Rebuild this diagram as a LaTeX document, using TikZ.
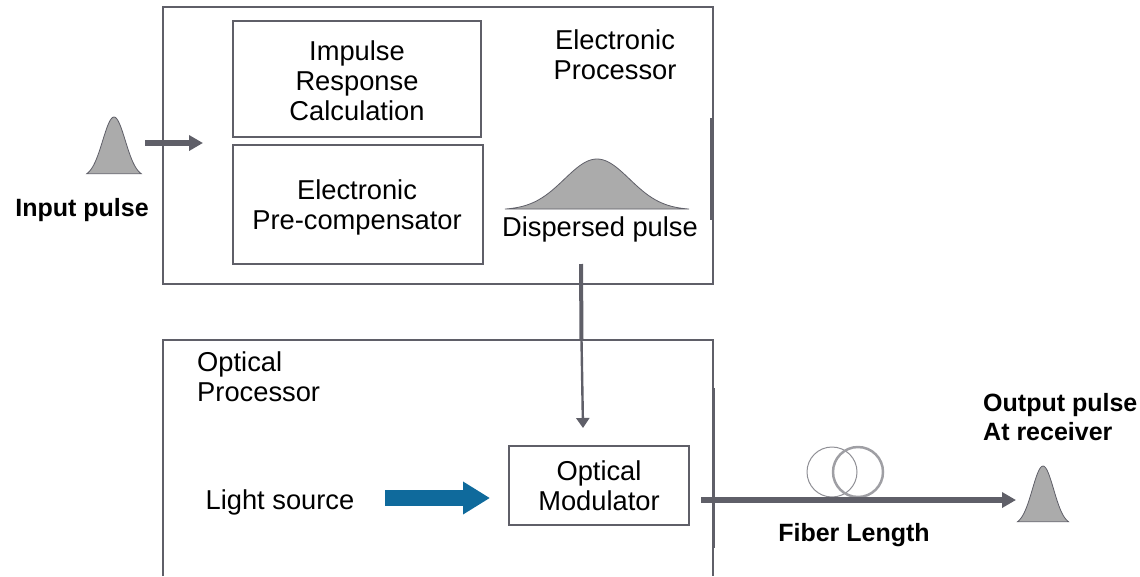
\documentclass[tikz,border=0pt]{standalone}
\usepackage{fontspec}
\setmainfont{Liberation Sans}
\usetikzlibrary{arrows.meta}
\definecolor{linegray}{HTML}{5F5F68}
\definecolor{pulsegray}{HTML}{ABABAB}
\definecolor{srcblue}{HTML}{0F6A9C}
\newcommand{\gausspulse}[5]{% centre, base, height, width, extent
  \draw[pulseline] plot[smooth,samples=41,domain=-#5:#5] ({#1+#4*\x},{#2-#3*exp(-\x*\x)}) -- cycle;}
\tikzset{
  box/.style={draw=linegray,line width=1.4pt},
  label/.style={font=\fontsize{27.3}{30}\selectfont,align=center,text=black,inner sep=0pt},
  boldlabel/.style={font=\fontsize{25}{29}\selectfont\bfseries,align=center,text=black,inner sep=0pt},
  pulseline/.style={fill=pulsegray,draw=linegray,line width=.8pt},
  flow/.style={draw=linegray,line width=6pt,-{Triangle[length=14pt,width=15pt]}},
  thinflow/.style={draw=linegray,line width=2.4pt,-{Triangle[length=10pt,width=13pt]}}
}
\begin{document}
\begin{tikzpicture}
  [x=1pt,y=-1pt]
  \useasboundingbox (0,0) rectangle (1140,576);
  \draw[box] (163,576) -- (163,340) -- (713,340) -- (713,576);
  \draw[box] (163,7) rectangle (713,284);
  \draw[box] (233,21) rectangle (481,137);
  \draw[box] (233,145) rectangle (483,264);
  \draw[box,line width=3pt] (711,118) -- (711,220);
  \draw[box,line width=3pt] (713,388) -- (713,548);
  \node (impulse)[label] at (357,80.5) {Impulse\\Response\\Calculation};
  \node (precomp)[label] at (357,207) {Electronic\\Pre-compensator};
  \node (elproc)[label] at (615,55) {Electronic\\Processor};
  \node (disp)[label] at (600,229) {Dispersed pulse};
  \node (optproc)[label,align=left,anchor=west] at (197,377) {Optical\\Processor};
  \node (lightsrc)[label] at (280,502) {Light source};
  \node (optmod)[draw=linegray,line width=1.4pt,minimum width=180pt,minimum height=79pt,label,inner sep=0pt] at (599,485.5) {Optical\\Modulator};
  \node (inlabel)[boldlabel] at (82,210) {Input pulse};
  \node (outlabel)[boldlabel,align=left,anchor=west] at (983,417) {Output pulse\\At receiver};
  \node (fiberlabel)[boldlabel] at (854,535) {Fiber Length};
  \gausspulse{114}{177}{60}{16}{1.7}
  \gausspulse{597}{210}{51}{46}{2}
  \gausspulse{1043}{525}{59}{15}{1.7}
  % fiber loops
  \node (loopa)[circle,draw=linegray!70,line width=1pt,minimum size=50pt,inner sep=0pt] at (832,472) {};
  \node (loopb)[circle,draw=linegray!60,line width=2.5pt,minimum size=50pt,inner sep=0pt] at (858,472) {};
  \coordinate (inbeg) at (145,143);
  \coordinate (inend) at (203,143);
  \coordinate (dispbeg) at (581,264);
  \coordinate (dispmid) at (581.5,340);
  \coordinate (modtop) at (583,428);
  \coordinate (fibbeg) at (701,500);
  \coordinate (fibend) at (1016,500);
  \coordinate (srcbeg) at (385,498);
  \coordinate (srcend) at (490,498);
  \draw[flow] (inbeg) -- (inend);
  \draw[draw=linegray,line width=4pt] (dispbeg) -- (dispmid);
  \draw[thinflow] (dispmid) -- (modtop);
  \draw[flow] (fibbeg) -- (fibend);
  \draw[draw=srcblue,line width=16pt,-{Triangle[length=27pt,width=31pt]}] (srcbeg) -- (srcend);
\end{tikzpicture}
\end{document}
